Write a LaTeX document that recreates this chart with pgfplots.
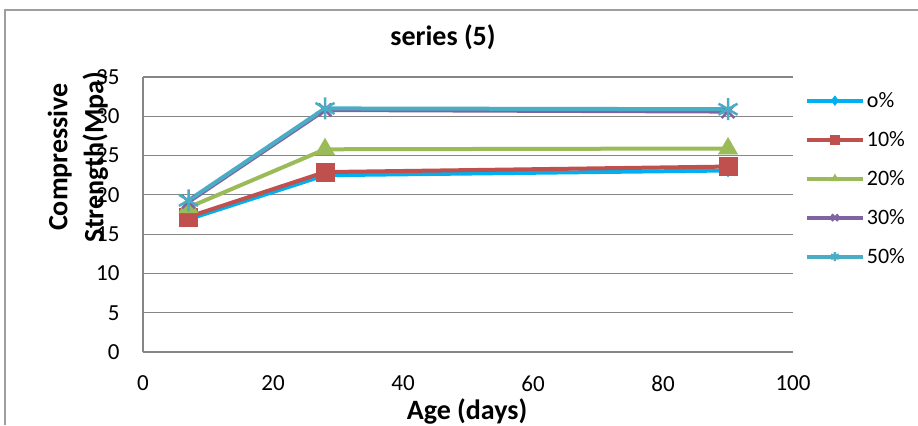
\documentclass[border=0pt]{standalone}
\usepackage{fontspec}
\setmainfont{Carlito}
\usepackage{pgfplots}
\pgfplotsset{compat=1.18}
\definecolor{s0}{HTML}{00B0F0}
\definecolor{s1}{HTML}{C0504D}
\definecolor{s2}{HTML}{9BBB59}
\definecolor{s3}{HTML}{8064A2}
\definecolor{s4}{HTML}{4BACC6}
\definecolor{gridc}{HTML}{868686}
\begin{document}
\begin{tikzpicture}[x=1bp,y=1bp]
\path[use as bounding box] (0,0) rectangle (918,425);
\draw[gridc!80, line width=1.2bp] (5,0) -- (5,415) -- (918,415);
\begin{axis}[
  at={(143bp,73bp)}, anchor=south west,
  scale only axis, width=650bp, height=275bp,
  xmin=0, xmax=100, ymin=0, ymax=35,
  xtick={0,20,...,100}, ytick={0,5,...,35},
  axis lines*=left,
  axis line style={draw=gridc, line width=1.2bp, -},
  ymajorgrids, grid style={draw=gridc, line width=1.2bp},
  major tick length=0pt,
  tick label style={font=\fontsize{23bp}{27bp}\selectfont},
  /pgf/number format/assume math mode=true,
  xticklabel style={yshift=-20bp},
  yticklabel style={xshift=-20bp},
  clip=false,
  every axis plot/.append style={line width=4bp},
  legend style={at={(rel axis cs:1.018,0.952)}, anchor=north west, draw=none, fill=none,
    inner sep=0pt, row sep=18.5bp, font=\fontsize{22bp}{26bp}\selectfont,
    nodes={inner sep=2bp}},
  legend cell align=left,
  legend image code/.code={\draw[mark repeat=2,mark phase=2,#1,mark size=4.5bp] plot coordinates {(0bp,0bp)(28bp,0bp)(56bp,0bp)};},
]
\addplot[s0, mark=diamond*, mark size=6bp, mark options={solid, line width=1bp}] coordinates {(7,16.9) (28,22.5) (90,23.1)};
\addlegendentry{o\%}
\addplot[s1, mark=square*, mark size=9bp, mark options={solid, line width=0.5bp}] coordinates {(7,17.2) (28,22.9) (90,23.6)};
\addlegendentry{10\%}
\addplot[s2, mark=triangle*, mark size=11bp, mark options={solid, line width=0.5bp}] coordinates {(7,18.4) (28,25.8) (90,25.9)};
\addlegendentry{20\%}
\addplot[s3, mark=x, mark size=9bp, mark options={solid, line width=2.5bp}] coordinates {(7,19.1) (28,30.8) (90,30.6)};
\addlegendentry{30\%}
\addplot[s4, mark=asterisk, mark size=11bp, mark options={solid, line width=2.5bp}] coordinates {(7,19.3) (28,31.0) (90,30.9)};
\addlegendentry{50\%}
\end{axis}
\node[font=\bfseries\fontsize{28bp}{34bp}\selectfont] at (443,388) {series (5)};
\node[font=\bfseries\fontsize{28bp}{34bp}\selectfont] at (467,14) {Age (days)};
\node[font=\bfseries\fontsize{28bp}{36bp}\selectfont, rotate=90, align=center] at (78,268) {Compressive\\Strength(Mpa)};
\end{tikzpicture}
\end{document}
